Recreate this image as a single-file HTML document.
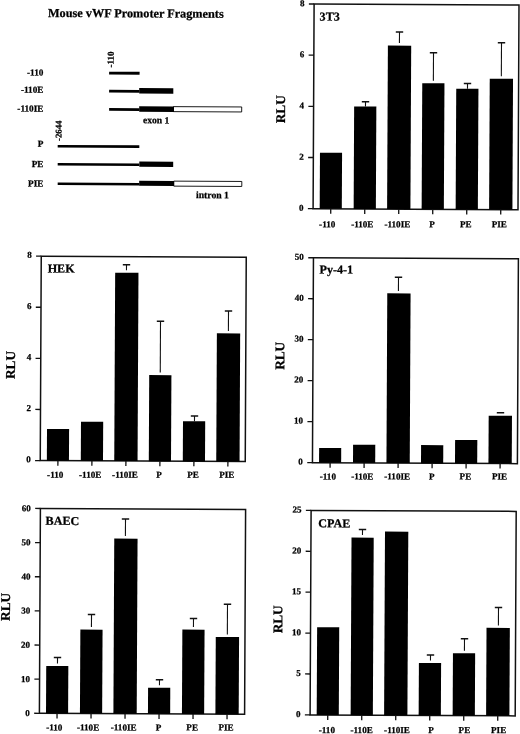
<!DOCTYPE html><html><head><meta charset="utf-8"><style>html,body{margin:0;padding:0;background:#fff;overflow:hidden;}svg{display:block;will-change:transform;}text{font-family:"Liberation Serif",serif;font-weight:bold;fill:#000;stroke:#000;stroke-width:0.25px;}</style></head><body>
<svg width="520" height="734" viewBox="0 0 520 734">
<rect x="0" y="0" width="520" height="734" fill="#fff"/>
<g transform="rotate(0.28 145 100)">
<text x="47.60" y="17.38" font-size="12.25">Mouse vWF Promoter Fragments</text>
<text x="43.28" y="76.10" font-size="9.2" text-anchor="end">-110</text>
<text x="43.37" y="93.40" font-size="9.2" text-anchor="end">-110E</text>
<text x="43.46" y="112.20" font-size="9.2" text-anchor="end">-110IE</text>
<text x="43.63" y="147.20" font-size="9.2" text-anchor="end">P</text>
<text x="43.73" y="167.50" font-size="9.2" text-anchor="end">PE</text>
<text x="43.82" y="187.00" font-size="9.2" text-anchor="end">PIE</text>
<text transform="translate(113.44,67.65) rotate(-90)" font-size="9.1">-110</text>
<text transform="translate(61.60,141.41) rotate(-90)" font-size="8.8">-2644</text>
<rect x="108.97" y="71.90" width="30.50" height="2.8" fill="#000"/>
<rect x="109.06" y="90.00" width="30.20" height="2.8" fill="#000"/>
<rect x="139.16" y="88.05" width="34.10" height="5.6" fill="#000"/>
<rect x="109.15" y="108.20" width="30.20" height="2.8" fill="#000"/>
<rect x="173.54" y="106.49" width="68.20" height="5.0" fill="#fff" stroke="#000" stroke-width="0.9"/>
<rect x="139.24" y="106.24" width="34.80" height="5.6" fill="#000"/>
<text x="143.11" y="123.31" font-size="9.6">exon 1</text>
<rect x="57.93" y="145.33" width="81.60" height="2.6" fill="#000"/>
<rect x="58.02" y="163.43" width="81.60" height="2.6" fill="#000"/>
<rect x="139.61" y="161.64" width="33.90" height="5.2" fill="#000"/>
<rect x="58.11" y="182.93" width="81.60" height="2.6" fill="#000"/>
<rect x="174.21" y="180.99" width="68.00" height="5.0" fill="#fff" stroke="#000" stroke-width="0.9"/>
<rect x="139.61" y="180.84" width="34.80" height="5.0" fill="#000"/>
<text x="196.48" y="197.85" font-size="9.7">intron 1</text>
</g>
<g transform="rotate(0.28 416.05 106.85)">
<rect x="313.6" y="4.5" width="204.90" height="204.70" fill="none" stroke="#111" stroke-width="1.5"/>
<line x1="308.40" y1="209.20" x2="313.6" y2="209.20" stroke="#111" stroke-width="1.3"/>
<text x="304.00" y="211.40" font-size="9.0" text-anchor="end">0</text>
<line x1="308.40" y1="158.02" x2="313.6" y2="158.02" stroke="#111" stroke-width="1.3"/>
<text x="304.00" y="160.22" font-size="9.0" text-anchor="end">2</text>
<line x1="308.40" y1="106.85" x2="313.6" y2="106.85" stroke="#111" stroke-width="1.3"/>
<text x="304.00" y="109.05" font-size="9.0" text-anchor="end">4</text>
<line x1="308.40" y1="55.68" x2="313.6" y2="55.68" stroke="#111" stroke-width="1.3"/>
<text x="304.00" y="57.88" font-size="9.0" text-anchor="end">6</text>
<line x1="308.40" y1="4.50" x2="313.6" y2="4.50" stroke="#111" stroke-width="1.3"/>
<text x="304.00" y="6.70" font-size="9.0" text-anchor="end">8</text>
<rect x="320.20" y="153.12" width="22.1" height="56.08" fill="#000"/>
<line x1="331.25" y1="209.20" x2="331.25" y2="214.20" stroke="#111" stroke-width="1.3"/>
<text x="327.79" y="227.73" font-size="9.1" text-anchor="middle">-110</text>
<line x1="365.48" y1="101.95" x2="365.48" y2="106.75" stroke="#111" stroke-width="1.1"/>
<line x1="361.78" y1="101.95" x2="369.18" y2="101.95" stroke="#111" stroke-width="1.5"/>
<rect x="354.15" y="106.75" width="22.2" height="102.45" fill="#000"/>
<line x1="365.25" y1="209.20" x2="365.25" y2="214.20" stroke="#111" stroke-width="1.3"/>
<text x="362.89" y="227.56" font-size="9.1" text-anchor="middle">-110E</text>
<line x1="399.13" y1="31.98" x2="399.13" y2="43.18" stroke="#111" stroke-width="1.1"/>
<line x1="395.43" y1="31.98" x2="402.83" y2="31.98" stroke="#111" stroke-width="1.5"/>
<rect x="387.60" y="45.69" width="23.3" height="163.51" fill="#000"/>
<line x1="399.25" y1="209.20" x2="399.25" y2="214.20" stroke="#111" stroke-width="1.3"/>
<text x="397.99" y="227.39" font-size="9.1" text-anchor="middle">-110IE</text>
<line x1="433.24" y1="52.62" x2="433.24" y2="80.72" stroke="#111" stroke-width="1.1"/>
<line x1="429.54" y1="52.62" x2="436.94" y2="52.62" stroke="#111" stroke-width="1.5"/>
<rect x="422.15" y="83.22" width="22.2" height="125.98" fill="#000"/>
<line x1="433.25" y1="209.20" x2="433.25" y2="214.20" stroke="#111" stroke-width="1.3"/>
<text x="432.69" y="227.22" font-size="9.1" text-anchor="middle">P</text>
<line x1="467.39" y1="83.25" x2="467.39" y2="88.45" stroke="#111" stroke-width="1.1"/>
<line x1="463.69" y1="83.25" x2="471.09" y2="83.25" stroke="#111" stroke-width="1.5"/>
<rect x="456.15" y="88.45" width="22.2" height="120.75" fill="#000"/>
<line x1="467.25" y1="209.20" x2="467.25" y2="214.20" stroke="#111" stroke-width="1.3"/>
<text x="466.29" y="227.06" font-size="9.1" text-anchor="middle">PE</text>
<line x1="501.19" y1="42.28" x2="501.19" y2="75.78" stroke="#111" stroke-width="1.1"/>
<line x1="497.49" y1="42.28" x2="504.89" y2="42.28" stroke="#111" stroke-width="1.5"/>
<rect x="489.60" y="78.29" width="23.3" height="130.91" fill="#000"/>
<line x1="501.25" y1="209.20" x2="501.25" y2="214.20" stroke="#111" stroke-width="1.3"/>
<text x="499.89" y="226.89" font-size="9.1" text-anchor="middle">PIE</text>
<text x="319.18" y="20.87" font-size="12.1">3T3</text>
<text transform="translate(285.11,109.91) rotate(-90)" font-size="13.3" text-anchor="middle">RLU</text>
</g>
<g transform="rotate(0.28 143.25 358.88)">
<rect x="40.75" y="256.65" width="205.00" height="204.45" fill="none" stroke="#111" stroke-width="1.5"/>
<line x1="35.55" y1="461.10" x2="40.75" y2="461.10" stroke="#111" stroke-width="1.3"/>
<text x="31.15" y="462.80" font-size="9.0" text-anchor="end">0</text>
<line x1="35.55" y1="409.99" x2="40.75" y2="409.99" stroke="#111" stroke-width="1.3"/>
<text x="31.15" y="411.69" font-size="9.0" text-anchor="end">2</text>
<line x1="35.55" y1="358.88" x2="40.75" y2="358.88" stroke="#111" stroke-width="1.3"/>
<text x="31.15" y="360.57" font-size="9.0" text-anchor="end">4</text>
<line x1="35.55" y1="307.76" x2="40.75" y2="307.76" stroke="#111" stroke-width="1.3"/>
<text x="31.15" y="309.46" font-size="9.0" text-anchor="end">6</text>
<line x1="35.55" y1="256.65" x2="40.75" y2="256.65" stroke="#111" stroke-width="1.3"/>
<text x="31.15" y="258.35" font-size="9.0" text-anchor="end">8</text>
<rect x="47.35" y="429.42" width="22.1" height="31.68" fill="#000"/>
<line x1="58.40" y1="461.10" x2="58.40" y2="466.10" stroke="#111" stroke-width="1.3"/>
<text x="55.78" y="478.13" font-size="9.1" text-anchor="middle">-110</text>
<rect x="81.30" y="422.05" width="22.2" height="39.05" fill="#000"/>
<line x1="92.40" y1="461.10" x2="92.40" y2="466.10" stroke="#111" stroke-width="1.3"/>
<text x="90.78" y="477.96" font-size="9.1" text-anchor="middle">-110E</text>
<line x1="126.04" y1="264.78" x2="126.04" y2="270.28" stroke="#111" stroke-width="1.1"/>
<line x1="122.34" y1="264.78" x2="129.74" y2="264.78" stroke="#111" stroke-width="1.5"/>
<rect x="114.75" y="272.79" width="23.3" height="188.31" fill="#000"/>
<line x1="126.40" y1="461.10" x2="126.40" y2="466.10" stroke="#111" stroke-width="1.3"/>
<text x="125.58" y="477.79" font-size="9.1" text-anchor="middle">-110IE</text>
<line x1="160.32" y1="321.12" x2="160.32" y2="372.52" stroke="#111" stroke-width="1.1"/>
<line x1="156.62" y1="321.12" x2="164.02" y2="321.12" stroke="#111" stroke-width="1.5"/>
<rect x="149.30" y="375.02" width="22.2" height="86.08" fill="#000"/>
<line x1="160.40" y1="461.10" x2="160.40" y2="466.10" stroke="#111" stroke-width="1.3"/>
<text x="159.68" y="477.62" font-size="9.1" text-anchor="middle">P</text>
<line x1="194.78" y1="415.65" x2="194.78" y2="420.95" stroke="#111" stroke-width="1.1"/>
<line x1="191.08" y1="415.65" x2="198.48" y2="415.65" stroke="#111" stroke-width="1.5"/>
<rect x="183.30" y="420.95" width="22.2" height="40.15" fill="#000"/>
<line x1="194.40" y1="461.10" x2="194.40" y2="466.10" stroke="#111" stroke-width="1.3"/>
<text x="193.58" y="477.46" font-size="9.1" text-anchor="middle">PE</text>
<line x1="228.27" y1="310.58" x2="228.27" y2="330.48" stroke="#111" stroke-width="1.1"/>
<line x1="224.57" y1="310.58" x2="231.97" y2="310.58" stroke="#111" stroke-width="1.5"/>
<rect x="216.75" y="332.99" width="23.3" height="128.11" fill="#000"/>
<line x1="228.40" y1="461.10" x2="228.40" y2="466.10" stroke="#111" stroke-width="1.3"/>
<text x="227.38" y="477.29" font-size="9.1" text-anchor="middle">PIE</text>
<text x="47.28" y="272.97" font-size="12.1">HEK</text>
<text transform="translate(14.93,365.65) rotate(-90)" font-size="13.3" text-anchor="middle">RLU</text>
</g>
<g transform="rotate(0.28 415.42 360.70)">
<rect x="312.95" y="258.25" width="204.95" height="204.90" fill="none" stroke="#111" stroke-width="1.5"/>
<line x1="307.75" y1="463.15" x2="312.95" y2="463.15" stroke="#111" stroke-width="1.3"/>
<text x="303.35" y="465.15" font-size="9.0" text-anchor="end">0</text>
<line x1="307.75" y1="422.17" x2="312.95" y2="422.17" stroke="#111" stroke-width="1.3"/>
<text x="303.35" y="424.17" font-size="9.0" text-anchor="end">10</text>
<line x1="307.75" y1="381.19" x2="312.95" y2="381.19" stroke="#111" stroke-width="1.3"/>
<text x="303.35" y="383.19" font-size="9.0" text-anchor="end">20</text>
<line x1="307.75" y1="340.21" x2="312.95" y2="340.21" stroke="#111" stroke-width="1.3"/>
<text x="303.35" y="342.21" font-size="9.0" text-anchor="end">30</text>
<line x1="307.75" y1="299.23" x2="312.95" y2="299.23" stroke="#111" stroke-width="1.3"/>
<text x="303.35" y="301.23" font-size="9.0" text-anchor="end">40</text>
<line x1="307.75" y1="258.25" x2="312.95" y2="258.25" stroke="#111" stroke-width="1.3"/>
<text x="303.35" y="260.25" font-size="9.0" text-anchor="end">50</text>
<rect x="319.55" y="448.42" width="22.1" height="14.73" fill="#000"/>
<line x1="330.60" y1="463.15" x2="330.60" y2="468.15" stroke="#111" stroke-width="1.3"/>
<text x="328.43" y="479.83" font-size="9.1" text-anchor="middle">-110</text>
<rect x="353.50" y="445.05" width="22.2" height="18.10" fill="#000"/>
<line x1="364.60" y1="463.15" x2="364.60" y2="468.15" stroke="#111" stroke-width="1.3"/>
<text x="362.88" y="479.66" font-size="9.1" text-anchor="middle">-110E</text>
<line x1="398.09" y1="277.38" x2="398.09" y2="290.98" stroke="#111" stroke-width="1.1"/>
<line x1="394.39" y1="277.38" x2="401.79" y2="277.38" stroke="#111" stroke-width="1.5"/>
<rect x="386.95" y="293.49" width="23.3" height="169.66" fill="#000"/>
<line x1="398.60" y1="463.15" x2="398.60" y2="468.15" stroke="#111" stroke-width="1.3"/>
<text x="397.78" y="479.49" font-size="9.1" text-anchor="middle">-110IE</text>
<rect x="421.50" y="445.02" width="22.2" height="18.13" fill="#000"/>
<line x1="432.60" y1="463.15" x2="432.60" y2="468.15" stroke="#111" stroke-width="1.3"/>
<text x="432.48" y="479.32" font-size="9.1" text-anchor="middle">P</text>
<rect x="455.50" y="439.75" width="22.2" height="23.40" fill="#000"/>
<line x1="466.60" y1="463.15" x2="466.60" y2="468.15" stroke="#111" stroke-width="1.3"/>
<text x="465.98" y="479.15" font-size="9.1" text-anchor="middle">PE</text>
<line x1="497.05" y1="412.28" x2="504.45" y2="412.28" stroke="#111" stroke-width="1.5"/>
<rect x="488.95" y="415.29" width="23.3" height="47.86" fill="#000"/>
<line x1="500.60" y1="463.15" x2="500.60" y2="468.15" stroke="#111" stroke-width="1.3"/>
<text x="500.08" y="478.99" font-size="9.1" text-anchor="middle">PIE</text>
<text x="319.17" y="273.87" font-size="12.1">Py-4-1</text>
<text transform="translate(284.28,356.46) rotate(-90)" font-size="13.3" text-anchor="middle">RLU</text>
</g>
<g transform="rotate(0.28 142.50 611.40)">
<rect x="39.9" y="509.0" width="205.20" height="204.80" fill="none" stroke="#111" stroke-width="1.5"/>
<line x1="34.70" y1="713.80" x2="39.9" y2="713.80" stroke="#111" stroke-width="1.3"/>
<text x="30.30" y="716.60" font-size="9.0" text-anchor="end">0</text>
<line x1="34.70" y1="679.67" x2="39.9" y2="679.67" stroke="#111" stroke-width="1.3"/>
<text x="30.30" y="682.47" font-size="9.0" text-anchor="end">10</text>
<line x1="34.70" y1="645.53" x2="39.9" y2="645.53" stroke="#111" stroke-width="1.3"/>
<text x="30.30" y="648.33" font-size="9.0" text-anchor="end">20</text>
<line x1="34.70" y1="611.40" x2="39.9" y2="611.40" stroke="#111" stroke-width="1.3"/>
<text x="30.30" y="614.20" font-size="9.0" text-anchor="end">30</text>
<line x1="34.70" y1="577.27" x2="39.9" y2="577.27" stroke="#111" stroke-width="1.3"/>
<text x="30.30" y="580.07" font-size="9.0" text-anchor="end">40</text>
<line x1="34.70" y1="543.13" x2="39.9" y2="543.13" stroke="#111" stroke-width="1.3"/>
<text x="30.30" y="545.93" font-size="9.0" text-anchor="end">50</text>
<line x1="34.70" y1="509.00" x2="39.9" y2="509.00" stroke="#111" stroke-width="1.3"/>
<text x="30.30" y="511.80" font-size="9.0" text-anchor="end">60</text>
<line x1="57.73" y1="657.91" x2="57.73" y2="663.91" stroke="#111" stroke-width="1.1"/>
<line x1="54.03" y1="657.91" x2="61.43" y2="657.91" stroke="#111" stroke-width="1.5"/>
<rect x="46.50" y="666.42" width="22.1" height="47.38" fill="#000"/>
<line x1="57.55" y1="713.80" x2="57.55" y2="718.80" stroke="#111" stroke-width="1.3"/>
<text x="54.83" y="730.83" font-size="9.1" text-anchor="middle">-110</text>
<line x1="91.52" y1="614.65" x2="91.52" y2="627.35" stroke="#111" stroke-width="1.1"/>
<line x1="87.82" y1="614.65" x2="95.22" y2="614.65" stroke="#111" stroke-width="1.5"/>
<rect x="80.45" y="629.85" width="22.2" height="83.95" fill="#000"/>
<line x1="91.55" y1="713.80" x2="91.55" y2="718.80" stroke="#111" stroke-width="1.3"/>
<text x="88.68" y="730.66" font-size="9.1" text-anchor="middle">-110E</text>
<line x1="125.05" y1="518.98" x2="125.05" y2="536.18" stroke="#111" stroke-width="1.1"/>
<line x1="121.35" y1="518.98" x2="128.75" y2="518.98" stroke="#111" stroke-width="1.5"/>
<rect x="113.90" y="538.69" width="23.3" height="175.11" fill="#000"/>
<line x1="125.55" y1="713.80" x2="125.55" y2="718.80" stroke="#111" stroke-width="1.3"/>
<text x="124.28" y="730.49" font-size="9.1" text-anchor="middle">-110IE</text>
<line x1="159.83" y1="679.72" x2="159.83" y2="685.22" stroke="#111" stroke-width="1.1"/>
<line x1="156.13" y1="679.72" x2="163.53" y2="679.72" stroke="#111" stroke-width="1.5"/>
<rect x="148.45" y="687.72" width="22.2" height="26.08" fill="#000"/>
<line x1="159.55" y1="713.80" x2="159.55" y2="718.80" stroke="#111" stroke-width="1.3"/>
<text x="159.13" y="730.32" font-size="9.1" text-anchor="middle">P</text>
<line x1="193.53" y1="618.35" x2="193.53" y2="626.85" stroke="#111" stroke-width="1.1"/>
<line x1="189.83" y1="618.35" x2="197.23" y2="618.35" stroke="#111" stroke-width="1.5"/>
<rect x="182.45" y="629.35" width="22.2" height="84.45" fill="#000"/>
<line x1="193.55" y1="713.80" x2="193.55" y2="718.80" stroke="#111" stroke-width="1.3"/>
<text x="192.78" y="730.16" font-size="9.1" text-anchor="middle">PE</text>
<line x1="227.46" y1="603.78" x2="227.46" y2="634.08" stroke="#111" stroke-width="1.1"/>
<line x1="223.76" y1="603.78" x2="231.16" y2="603.78" stroke="#111" stroke-width="1.5"/>
<rect x="215.90" y="636.59" width="23.3" height="77.21" fill="#000"/>
<line x1="227.55" y1="713.80" x2="227.55" y2="718.80" stroke="#111" stroke-width="1.3"/>
<text x="226.58" y="729.99" font-size="9.1" text-anchor="middle">PIE</text>
<text x="45.18" y="525.27" font-size="12.1">BAEC</text>
<text transform="translate(9.88,607.57) rotate(-90)" font-size="13.3" text-anchor="middle">RLU</text>
</g>
<g transform="rotate(0.28 413.15 613.15)">
<rect x="310.6" y="510.9" width="205.10" height="204.50" fill="none" stroke="#111" stroke-width="1.5"/>
<line x1="305.40" y1="715.40" x2="310.6" y2="715.40" stroke="#111" stroke-width="1.3"/>
<text x="301.00" y="717.60" font-size="9.0" text-anchor="end">0</text>
<line x1="305.40" y1="674.50" x2="310.6" y2="674.50" stroke="#111" stroke-width="1.3"/>
<text x="301.00" y="676.70" font-size="9.0" text-anchor="end">5</text>
<line x1="305.40" y1="633.60" x2="310.6" y2="633.60" stroke="#111" stroke-width="1.3"/>
<text x="301.00" y="635.80" font-size="9.0" text-anchor="end">10</text>
<line x1="305.40" y1="592.70" x2="310.6" y2="592.70" stroke="#111" stroke-width="1.3"/>
<text x="301.00" y="594.90" font-size="9.0" text-anchor="end">15</text>
<line x1="305.40" y1="551.80" x2="310.6" y2="551.80" stroke="#111" stroke-width="1.3"/>
<text x="301.00" y="554.00" font-size="9.0" text-anchor="end">20</text>
<line x1="305.40" y1="510.90" x2="310.6" y2="510.90" stroke="#111" stroke-width="1.3"/>
<text x="301.00" y="513.10" font-size="9.0" text-anchor="end">25</text>
<rect x="317.20" y="627.72" width="22.1" height="87.68" fill="#000"/>
<line x1="328.25" y1="715.40" x2="328.25" y2="720.40" stroke="#111" stroke-width="1.3"/>
<text x="327.44" y="733.42" font-size="9.1" text-anchor="middle">-110</text>
<line x1="362.09" y1="529.75" x2="362.09" y2="535.35" stroke="#111" stroke-width="1.1"/>
<line x1="358.39" y1="529.75" x2="365.79" y2="529.75" stroke="#111" stroke-width="1.5"/>
<rect x="351.15" y="537.85" width="22.2" height="177.55" fill="#000"/>
<line x1="362.25" y1="715.40" x2="362.25" y2="720.40" stroke="#111" stroke-width="1.3"/>
<text x="362.24" y="733.25" font-size="9.1" text-anchor="middle">-110E</text>
<rect x="384.60" y="531.69" width="23.3" height="183.71" fill="#000"/>
<line x1="396.25" y1="715.40" x2="396.25" y2="720.40" stroke="#111" stroke-width="1.3"/>
<text x="397.59" y="733.08" font-size="9.1" text-anchor="middle">-110IE</text>
<line x1="430.70" y1="654.91" x2="430.70" y2="660.41" stroke="#111" stroke-width="1.1"/>
<line x1="427.00" y1="654.91" x2="434.40" y2="654.91" stroke="#111" stroke-width="1.5"/>
<rect x="419.15" y="662.92" width="22.2" height="52.48" fill="#000"/>
<line x1="430.25" y1="715.40" x2="430.25" y2="720.40" stroke="#111" stroke-width="1.3"/>
<text x="431.74" y="732.91" font-size="9.1" text-anchor="middle">P</text>
<line x1="464.62" y1="638.45" x2="464.62" y2="650.55" stroke="#111" stroke-width="1.1"/>
<line x1="460.92" y1="638.45" x2="468.32" y2="638.45" stroke="#111" stroke-width="1.5"/>
<rect x="453.15" y="653.05" width="22.2" height="62.35" fill="#000"/>
<line x1="464.25" y1="715.40" x2="464.25" y2="720.40" stroke="#111" stroke-width="1.3"/>
<text x="464.99" y="732.75" font-size="9.1" text-anchor="middle">PE</text>
<line x1="498.47" y1="606.98" x2="498.47" y2="624.98" stroke="#111" stroke-width="1.1"/>
<line x1="494.77" y1="606.98" x2="502.17" y2="606.98" stroke="#111" stroke-width="1.5"/>
<rect x="486.60" y="627.49" width="23.3" height="87.91" fill="#000"/>
<line x1="498.25" y1="715.40" x2="498.25" y2="720.40" stroke="#111" stroke-width="1.3"/>
<text x="499.23" y="732.58" font-size="9.1" text-anchor="middle">PIE</text>
<text x="317.78" y="527.77" font-size="12.1">CPAE</text>
<text transform="translate(282.33,619.96) rotate(-90)" font-size="13.3" text-anchor="middle">RLU</text>
</g>
</svg></body></html>
